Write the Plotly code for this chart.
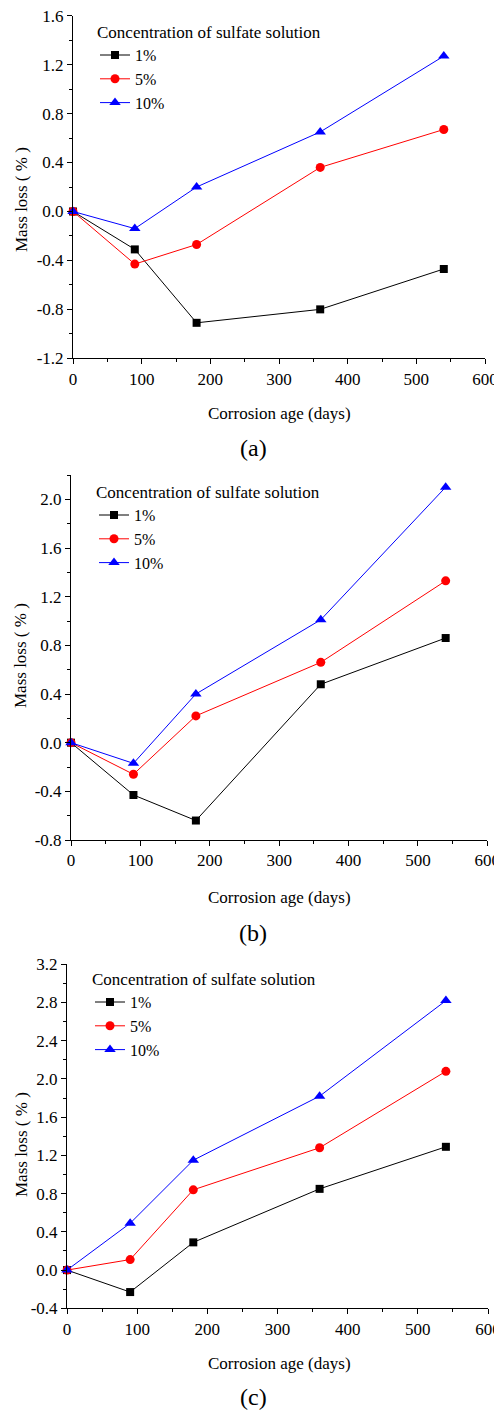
import plotly.graph_objects as go

W, H = 502, 1414
OFF = 8
FW, FH = W - OFF, H - OFF

days = [0, 90, 180, 360, 540]
series_names = ["1%", "5%", "10%"]

a_1 = [0.0, -0.31, -0.91, -0.80, -0.47]
a_5 = [0.0, -0.43, -0.27, 0.36, 0.67]
a_10 = [0.0, -0.14, 0.20, 0.65, 1.27]

b_1 = [0.0, -0.43, -0.64, 0.48, 0.86]
b_5 = [0.0, -0.26, 0.22, 0.66, 1.33]
b_10 = [0.0, -0.17, 0.40, 1.01, 2.10]

c_1 = [0.0, -0.23, 0.29, 0.85, 1.29]
c_5 = [0.0, 0.11, 0.84, 1.28, 2.08]
c_10 = [0.0, 0.49, 1.15, 1.82, 2.82]

x_ticks = [0, 100, 200, 300, 400, 500, 600]
ya_ticks = [-1.2, -0.8, -0.4, 0.0, 0.4, 0.8, 1.2, 1.6]
yb_ticks = [-0.8, -0.4, 0.0, 0.4, 0.8, 1.2, 1.6, 2.0]
yc_ticks = [-0.4, 0.0, 0.4, 0.8, 1.2, 1.6, 2.0, 2.4, 2.8, 3.2]
ya_range = [-1.2, 1.6]
yb_range = [-0.8, 2.2]
yc_range = [-0.4, 3.2]

legend_title = "Concentration of sulfate solution"
x_title = "Corrosion age (days)"
y_title = "Mass loss ( % )"
panel_labels = ["(a)", "(b)", "(c)"]

colors = ["#000000", "#ff0000", "#0000ff"]
symbols = ["square", "circle", "triangle-up"]
msizes = [8, 9, 10]

FONT = "serif"

def fmt(v):
    return "%.1f" % v

def px_x(p):
    return (p - OFF) / FW

def px_y(p):
    return 1 - (p - OFF) / FH

panels = [
    dict(data=[a_1, a_5, a_10], yt=ya_ticks, yr=ya_range,
         xd=[73, 485], yd=[15.7, 358.3], leg=(95, 16), ytitle=200, xt=413, lab=448),
    dict(data=[b_1, b_5, b_10], yt=yb_ticks, yr=yb_range,
         xd=[71, 487.3], yd=[475, 840], leg=(94, 476), ytitle=656, xt=897, lab=933),
    dict(data=[c_1, c_5, c_10], yt=yc_ticks, yr=yc_range,
         xd=[67, 488], yd=[964.3, 1308.3], leg=(90, 963), ytitle=1145, xt=1363, lab=1397),
]

fig = go.Figure()
annotations = []
layout = {}
for i, p in enumerate(panels):
    n = "" if i == 0 else str(i + 1)
    legname = "legend" + n
    for j, ys in enumerate(p["data"]):
        fig.add_trace(go.Scatter(
            x=days, y=ys, name=series_names[j], mode="lines+markers",
            line=dict(color=colors[j], width=1),
            marker=dict(symbol=symbols[j], size=msizes[j], color=colors[j]),
            xaxis="x" + n, yaxis="y" + n, legend=legname, cliponaxis=False,
        ))
    layout["xaxis" + n] = dict(
        domain=[px_x(p["xd"][0]), px_x(p["xd"][1])], range=[0, 600],
        anchor="y" + n, tickmode="array", tickvals=x_ticks,
        ticktext=[str(v) for v in x_ticks], automargin=False,
        ticklabeloverflow="allow",
        showline=True, linecolor="black", linewidth=1, ticks="outside",
        ticklen=5, tickwidth=1, tickcolor="black", showgrid=False, zeroline=False,
        minor=dict(tickmode="linear", tick0=0, dtick=50, ticks="outside",
                   ticklen=3, tickcolor="black", showgrid=False),
        tickfont=dict(family=FONT, size=17, color="black"),
    )
    layout["yaxis" + n] = dict(
        domain=[px_y(p["yd"][1]), px_y(p["yd"][0])], range=p["yr"],
        anchor="x" + n, tickmode="array", tickvals=p["yt"],
        ticktext=[fmt(v) for v in p["yt"]], automargin=False,
        ticklabeloverflow="allow",
        showline=True, linecolor="black", linewidth=1, ticks="outside",
        ticklen=5, tickwidth=1, tickcolor="black", showgrid=False, zeroline=False,
        minor=dict(tickmode="linear", tick0=0, dtick=0.2, ticks="outside",
                   ticklen=3, tickcolor="black", showgrid=False),
        tickfont=dict(family=FONT, size=17, color="black"),
    )
    layout[legname] = dict(
        x=px_x(p["leg"][0]), y=px_y(p["leg"][1]), xanchor="left", yanchor="top",
        bgcolor="rgba(0,0,0,0)", borderwidth=0,
        title=dict(text=legend_title, font=dict(family=FONT, size=17, color="black")),
        font=dict(family=FONT, size=16, color="black"),
        itemwidth=30, tracegroupgap=0,
    )
    annotations.append(dict(
        text=x_title, x=px_x(279), y=px_y(p["xt"]), xref="paper", yref="paper",
        showarrow=False, xanchor="center", yanchor="middle",
        font=dict(family=FONT, size=17, color="black")))
    annotations.append(dict(
        text=y_title, x=px_x(21), y=px_y(p["ytitle"]), xref="paper", yref="paper",
        showarrow=False, xanchor="center", yanchor="middle", textangle=-90,
        font=dict(family=FONT, size=17, color="black")))
    annotations.append(dict(
        text=panel_labels[i], x=px_x(253), y=px_y(p["lab"]), xref="paper", yref="paper",
        showarrow=False, xanchor="center", yanchor="middle",
        font=dict(family=FONT, size=24, color="black")))

fig.update_layout(
    template="none",
    width=FW, height=FH, margin=dict(l=0, r=0, t=0, b=0, autoexpand=False),
    paper_bgcolor="white", plot_bgcolor="white",
    font=dict(family=FONT, size=17, color="black"),
    annotations=annotations, **layout,
)

fig.write_html("out.html")
